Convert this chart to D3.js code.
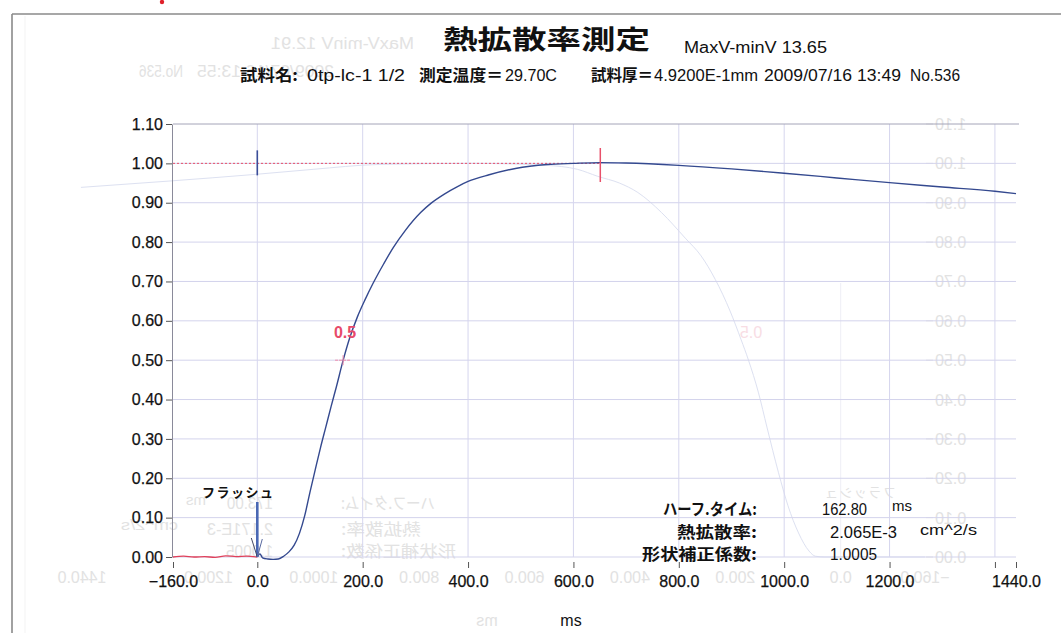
<!DOCTYPE html>
<html>
<head>
<meta charset="utf-8">
<script src="https://cdn.jsdelivr.net/npm/d3@7"></script>
<style>
  body { margin: 0; background: #ffffff; }
  svg { display: block; }
</style>
</head>
<body>
<div id="chart"></div>
<script>
var width = 1061, height = 633;
var latin = "'Liberation Sans', Arial, 'Noto Sans CJK JP', sans-serif";
var japanese = "'Noto Sans CJK JP', 'Liberation Sans', sans-serif";

// ---- data ----
// baseline before the flash (red)
var baseTime = [-160, -140, -120, -100, -80, -60, -40, -20, 0];
var baseValue = [0.000, 0.002, 0.000, 0.001, -0.001, 0.003, 0.001, 0.002, 0.000];

// temperature rise after the flash (blue)
var curveTime = [0, 5, 10, 20, 30, 40, 50, 60, 70, 80, 90, 100, 110, 120, 130, 140, 150, 163,
  175, 190, 205, 220, 240, 258, 280, 310, 330, 355, 380, 400, 440, 490, 550, 600, 651,
  700, 800, 900, 1000, 1100, 1200, 1300, 1400, 1440];
var curveValue = [0.000, 0.008, -0.002, -0.005, -0.006, -0.005, 0.002, 0.013, 0.030, 0.060, 0.105,
  0.165, 0.222, 0.278, 0.330, 0.382, 0.432, 0.500, 0.555, 0.610, 0.655, 0.696, 0.745, 0.786,
  0.828, 0.875, 0.899, 0.922, 0.941, 0.954, 0.971, 0.987, 0.997, 1.000, 1.002,
  1.001, 0.995, 0.986, 0.975, 0.963, 0.951, 0.940, 0.929, 0.923];

// curve of the back page that shows through the paper (mirrored)
var ghostTime = [-160, 0, 30, 48, 60, 80, 100, 118, 140, 156, 175, 189, 210, 238, 265, 295,
  340, 385, 420, 461, 500, 560, 700, 880, 1000, 1111, 1275, 1442];
var ghostValue = [0.000, 0.000, 0.000, 0.002, 0.015, 0.061, 0.130, 0.214, 0.330, 0.417, 0.500,
  0.552, 0.625, 0.705, 0.765, 0.810, 0.875, 0.926, 0.950, 0.967, 0.985, 0.995, 1.000, 0.997,
  0.985, 0.972, 0.955, 0.939];

var yTicks = [0, 0.1, 0.2, 0.3, 0.4, 0.5, 0.6, 0.7, 0.8, 0.9, 1.0, 1.1];
var xTicks = [-160, 0, 200, 400, 600, 800, 1000, 1200, 1400, 1440];
var xLabelTicks = [-160, 0, 200, 400, 600, 800, 1000, 1200, 1440];
var xGrid = [0, 200, 400, 600, 800, 1000, 1200, 1400];
var yGrid = [0, 0.1, 0.2, 0.3, 0.4, 0.5, 0.6, 0.7, 0.8, 0.9, 1.0];

var halfTime = 162.8;
var peakTime = 651;
var resultLabels = ["ハーフ.タイム:", "熱拡散率:", "形状補正係数:"];
var resultValues = ["162.80", "2.065E-3", "1.0005"];
var ghostValues = ["173.00", "2.171E-3", "1.0005"];

var x = d3.scaleLinear().domain([-160, 1440]).range([173, 1016]);
var y = d3.scaleLinear().domain([0, 1.1]).range([557, 124]);
var mirrorAxis = 1098;

var svg = d3.select("#chart")
  .append("svg")
  .attr("width", width)
  .attr("height", height);

svg.append("rect")
  .attr("width", width)
  .attr("height", height)
  .attr("fill", "#ffffff");

drawGhostPage();
drawFrame();
drawHeader();
drawGrid();
drawAxes();
drawCurves();
drawMarkers();
drawResults();

function addText(parent, str, px, py, size, fill, family, weight, len, anchor) {
  var t = parent.append("text")
    .attr("x", px)
    .attr("y", py)
    .attr("font-size", size)
    .attr("fill", fill)
    .attr("font-family", family)
    .attr("font-weight", weight || "normal")
    .attr("text-anchor", anchor || "start")
    .text(str);
  if (len) {
    t.attr("textLength", len).attr("lengthAdjust", "spacingAndGlyphs");
  }
  return t;
}

function drawFrame() {
  svg.append("line")
    .attr("x1", 12).attr("y1", 14).attr("x2", width).attr("y2", 14)
    .attr("stroke", "#8a8a8a").attr("stroke-width", 1.6);
  svg.append("line")
    .attr("x1", 12).attr("y1", 14).attr("x2", 12).attr("y2", height)
    .attr("stroke", "#8a8a8a").attr("stroke-width", 1.6);
  svg.append("line")
    .attr("x1", 25).attr("y1", 16).attr("x2", 25).attr("y2", height)
    .attr("stroke", "#f3f3f3").attr("stroke-width", 1);
  svg.append("circle")
    .attr("cx", 162).attr("cy", 2).attr("r", 2.2)
    .attr("fill", "#e0202a");
}

function drawHeader() {
  addText(svg, "熱拡散率測定", 443, 49, 26, "#111", japanese, "bold", 207);
  addText(svg, "MaxV-minV  13.65", 684, 53, 16, "#111", latin, "normal", 143);

  addText(svg, "試料名:", 240, 81, 16, "#111", japanese, "bold", 58);
  addText(svg, "0tp-lc-1 1/2", 307, 81, 16, "#111", latin, "normal", 98);
  addText(svg, "測定温度＝", 419, 81, 16, "#111", japanese, "bold", 84);
  addText(svg, "29.70C", 505, 81, 16, "#111", latin, "normal", 52);
  addText(svg, "試料厚＝", 591, 81, 16, "#111", japanese, "bold", 62);
  addText(svg, "4.9200E-1mm", 654, 81, 16, "#111", latin, "normal", 104);
  addText(svg, "2009/07/16 13:49", 764, 81, 16, "#111", latin, "normal", 137);
  addText(svg, "No.536", 910, 81, 16, "#111", latin, "normal", 50);
}

function drawGrid() {
  var grid = svg.append("g").attr("class", "grid");

  grid.selectAll(".hgrid")
    .data(yGrid)
    .enter()
    .append("line")
    .attr("class", "hgrid")
    .attr("x1", x(-160))
    .attr("x2", x(1440))
    .attr("y1", function(d) { return y(d); })
    .attr("y2", function(d) { return y(d); })
    .attr("stroke", "#d3d3ec")
    .attr("stroke-width", 1);

  grid.selectAll(".vgrid")
    .data(xGrid)
    .enter()
    .append("line")
    .attr("class", "vgrid")
    .attr("x1", function(d) { return x(d); })
    .attr("x2", function(d) { return x(d); })
    .attr("y1", y(1.1))
    .attr("y2", y(0))
    .attr("stroke", "#d6d6ee")
    .attr("stroke-width", 1);

  // top border of the plot
  grid.append("line")
    .attr("x1", x(-160)).attr("x2", x(1440) + 3)
    .attr("y1", y(1.1)).attr("y2", y(1.1))
    .attr("stroke", "#a4a4b8")
    .attr("stroke-width", 1);
}

function drawAxes() {
  var yAxis = svg.append("g")
    .attr("transform", "translate(" + (x(-160) - 1) + ",0)")
    .call(d3.axisLeft(y)
      .tickValues(yTicks)
      .tickFormat(d3.format(".2f"))
      .tickSize(6)
      .tickSizeOuter(0)
      .tickPadding(3));

  yAxis.attr("font-size", 16).attr("font-family", latin);
  yAxis.select(".domain").attr("stroke", "#8a8a9a");
  yAxis.selectAll(".tick line").attr("stroke", "#555");
  yAxis.selectAll(".tick text")
    .attr("fill", "#111")
    .attr("stroke", "#111")
    .attr("stroke-width", 0.25);

  var xAxis = svg.append("g")
    .attr("transform", "translate(0,562)")
    .call(d3.axisBottom(x)
      .tickValues(xTicks)
      .tickFormat(function(d) {
        return xLabelTicks.indexOf(d) >= 0 ? d3.format(".1f")(d) : "";
      })
      .tickSize(6)
      .tickSizeOuter(0)
      .tickPadding(8));

  xAxis.attr("font-size", 16).attr("font-family", latin);
  xAxis.select(".domain").remove();
  xAxis.selectAll(".tick line").attr("stroke", "#555");
  xAxis.selectAll(".tick text")
    .attr("fill", "#111")
    .attr("stroke", "#111")
    .attr("stroke-width", 0.25);

  addText(svg, "ms", 571, 626, 16, "#111", latin, "normal", null, "middle");
}

function drawCurves() {
  var line = d3.line()
    .x(function(d) { return x(d[0]); })
    .y(function(d) { return y(d[1]); })
    .curve(d3.curveMonotoneX);

  // red dotted reference at 1.00
  svg.append("line")
    .attr("x1", x(-160)).attr("x2", x(peakTime))
    .attr("y1", y(1)).attr("y2", y(1))
    .attr("stroke", "#e8506a")
    .attr("stroke-width", 1)
    .attr("stroke-dasharray", "2,2");

  svg.append("path")
    .datum(d3.zip(baseTime, baseValue))
    .attr("d", line)
    .attr("fill", "none")
    .attr("stroke", "#e0405a")
    .attr("stroke-width", 1.3);

  svg.append("path")
    .datum(d3.zip(curveTime, curveValue))
    .attr("d", line)
    .attr("fill", "none")
    .attr("stroke", "#34498f")
    .attr("stroke-width", 1.4);
}

function drawMarkers() {
  // flash
  svg.append("line")
    .attr("x1", x(0)).attr("x2", x(0))
    .attr("y1", y(1) - 13).attr("y2", y(1) + 12)
    .attr("stroke", "#3a4d99").attr("stroke-width", 1.6);

  svg.append("line")
    .attr("x1", x(0)).attr("x2", x(0))
    .attr("y1", 502).attr("y2", y(0))
    .attr("stroke", "#4a68b4").attr("stroke-width", 2.6);
  svg.append("line")
    .attr("x1", x(0) - 6).attr("x2", x(0))
    .attr("y1", 538).attr("y2", y(0))
    .attr("stroke", "#444a66").attr("stroke-width", 1);
  svg.append("line")
    .attr("x1", x(0) + 5).attr("x2", x(0))
    .attr("y1", 539).attr("y2", y(0))
    .attr("stroke", "#5a6aa0").attr("stroke-width", 1);

  var flash = addText(svg, "フラッシュ", 202, 497, 13, "#111", japanese, "bold");
  flash.attr("textLength", 71);

  // peak
  svg.append("line")
    .attr("x1", x(peakTime)).attr("x2", x(peakTime))
    .attr("y1", 148).attr("y2", 182)
    .attr("stroke", "#e8506a").attr("stroke-width", 1.5);

  // half rise
  var hx = x(halfTime), hy = y(0.5);
  svg.append("line")
    .attr("x1", hx - 8).attr("x2", hx + 8)
    .attr("y1", hy).attr("y2", hy)
    .attr("stroke", "#f08aaa").attr("stroke-width", 1)
    .attr("stroke-dasharray", "3,1");
  svg.append("line")
    .attr("x1", hx).attr("x2", hx)
    .attr("y1", hy - 5).attr("y2", hy + 5)
    .attr("stroke", "#f08aaa").attr("stroke-width", 1);
  addText(svg, "0.5", 345, 338, 16, "#e84a6a", latin, "bold", null, "middle");
}

function drawResults() {
  var rows = [515, 538, 560];
  rows.forEach(function(ry, i) {
    addText(svg, resultLabels[i], 757, ry, 16, "#111", japanese, "bold",
      [94, 80, 115][i], "end");
  });
  addText(svg, resultValues[0], 822, 515, 16, "#111", latin, "normal", 45);
  addText(svg, resultValues[1], 830, 538, 16, "#111", latin, "normal", 67);
  addText(svg, resultValues[2], 830, 560, 16, "#111", latin, "normal", 47);
  addText(svg, "ms", 892, 511, 15, "#111", latin, "normal", 20);
  addText(svg, "cm^2/s", 920, 535, 15, "#111", latin, "normal", 57);
}

function drawGhostPage() {
  var ghost = svg.append("g")
    .attr("transform", "translate(" + mirrorAxis + ",0) scale(-1,1)");
  var pale = "#e2e2e2";

  var line = d3.line()
    .x(function(d) { return x(d[0]); })
    .y(function(d) { return y(d[1]); })
    .curve(d3.curveMonotoneX);

  ghost.append("path")
    .datum(d3.zip(ghostTime, ghostValue))
    .attr("d", line)
    .attr("fill", "none")
    .attr("stroke", "#dde1f1")
    .attr("stroke-width", 1);

  ghost.append("line")
    .attr("x1", x(0)).attr("x2", x(0))
    .attr("y1", 283).attr("y2", y(0))
    .attr("stroke", "#eeeef6").attr("stroke-width", 1);

  addText(ghost, "MaxV-minV  12.91", 684, 49, 16, pale, latin, "normal", 143);
  addText(ghost, "2009/07/16 13:55", 764, 77, 16, pale, latin, "normal", 137);
  addText(ghost, "No.536", 915, 77, 16, pale, latin, "normal", 44);

  ghost.selectAll(".gy")
    .data(yTicks)
    .enter()
    .append("text")
    .attr("class", "gy")
    .attr("x", 163)
    .attr("y", function(d) { return y(d) + 6; })
    .attr("font-size", 16)
    .attr("font-family", latin)
    .attr("text-anchor", "end")
    .attr("fill", pale)
    .text(function(d) { return d3.format(".2f")(d); });

  ghost.selectAll(".gyt")
    .data(yTicks)
    .enter()
    .append("line")
    .attr("class", "gyt")
    .attr("x1", 165).attr("x2", 172)
    .attr("y1", function(d) { return y(d); })
    .attr("y2", function(d) { return y(d); })
    .attr("stroke", pale);

  ghost.selectAll(".gx")
    .data(xLabelTicks)
    .enter()
    .append("text")
    .attr("class", "gx")
    .attr("x", function(d) { return x(d); })
    .attr("y", 583)
    .attr("font-size", 16)
    .attr("font-family", latin)
    .attr("text-anchor", "middle")
    .attr("fill", pale)
    .text(function(d) { return d3.format(".1f")(d); });

  addText(ghost, "ms", 611, 626, 16, pale, latin, "normal", null, "middle");
  addText(ghost, "0.5", 347, 338, 16, "#f8dde4", latin, "normal", null, "middle");
  ghost.append("text")
    .attr("x", 202).attr("y", 497)
    .attr("font-size", 13)
    .attr("font-family", japanese)
    .attr("fill", pale)
    .attr("textLength", 71)
    .text("フラッシュ");

  [509, 535, 557].forEach(function(ry, i) {
    addText(ghost, resultLabels[i], 757, ry, 16, pale, japanese, "normal",
      [94, 80, 115][i], "end");
    addText(ghost, ghostValues[i], 825, ry, 16, pale, latin, "normal", [46, 66, 47][i]);
  });
  addText(ghost, "ms", 892, 505, 15, pale, latin, "normal", 20);
  addText(ghost, "cm^2/s", 920, 530, 15, pale, latin, "normal", 57);
}
</script>
</body>
</html>
